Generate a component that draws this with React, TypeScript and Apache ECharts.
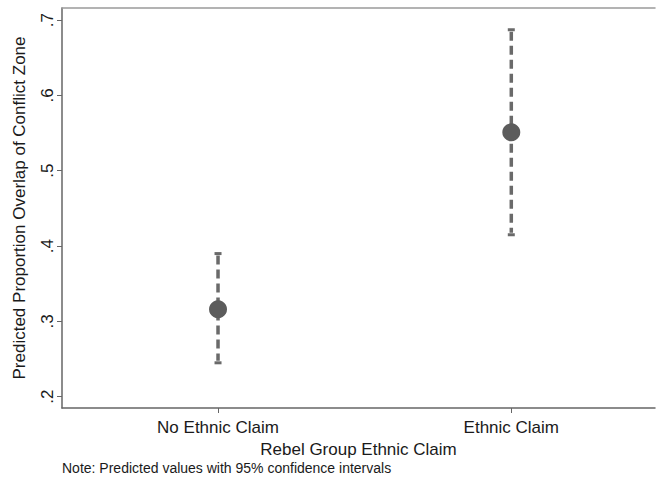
import React, { useEffect, useRef } from "react";
import * as echarts from "echarts";

const categories = ["No Ethnic Claim", "Ethnic Claim"];
const categoryPositions = [1, 2];
const predicted = [0.316, 0.551];
const ciLower = [0.245, 0.415];
const ciUpper = [0.39, 0.687];
const yTicks = [0.2, 0.3, 0.4, 0.5, 0.6, 0.7];

const FONT = "'Liberation Sans', Arial, Helvetica, sans-serif";

export default function App() {
  const ref = useRef<HTMLDivElement>(null);
  useEffect(() => {
    if (!ref.current) return;
    const chart = echarts.init(ref.current, undefined, { renderer: "svg" });
    const errorData = categoryPositions.map((x, i) => [x, ciLower[i], ciUpper[i]]);
    const pointData = categoryPositions.map((x, i) => [x, predicted[i]]);
    chart.setOption({
      animation: false,
      backgroundColor: "#ffffff",
      textStyle: { fontFamily: FONT },
      grid: { left: 62, right: 3, top: 8, bottom: 69, containLabel: false },
      xAxis: [
        {
          type: "value",
          min: 0.468,
          max: 2.49,
          position: "bottom",
          name: "Rebel Group Ethnic Claim",
          nameLocation: "middle",
          nameGap: 33,
          nameMoveOverlap: false,
          nameTextStyle: { fontFamily: FONT, fontSize: 17, color: "#1a1a1a" },
          axisLine: { show: true, lineStyle: { color: "#666", width: 1.5 } },
          axisTick: { show: true, customValues: categoryPositions, length: 5, lineStyle: { color: "#666" } },
          axisLabel: {
            customValues: categoryPositions,
            formatter: (v: number) => categories[Math.round(v) - 1] ?? "",
            fontFamily: FONT,
            fontSize: 17,
            color: "#1a1a1a",
            margin: 11,
          },
          splitLine: { show: false },
        },
        {
          type: "value",
          min: 0.468,
          max: 2.49,
          position: "top",
          axisLine: { show: true, lineStyle: { color: "#9a9a9a", width: 1.5 } },
          axisTick: { show: false },
          axisLabel: { show: false },
          splitLine: { show: false },
        },
      ],
      yAxis: {
        type: "value",
        min: 0.185,
        max: 0.716,
        name: "Predicted Proportion Overlap of Conflict Zone",
        nameLocation: "middle",
        nameRotate: 90,
        nameGap: 34,
        nameTextStyle: { fontFamily: FONT, fontSize: 17, color: "#1a1a1a" },
        axisLine: { show: true, lineStyle: { color: "#666", width: 1.5 } },
        axisTick: { show: true, customValues: yTicks, length: 5, lineStyle: { color: "#666" } },
        axisLabel: {
          customValues: yTicks,
          rotate: 90,
          formatter: (v: number) => "." + Math.round(v * 10),
          fontFamily: FONT,
          fontSize: 17,
          color: "#1a1a1a",
          margin: 6,
        },
        splitLine: { show: false },
      },
      series: [
        {
          type: "custom",
          xAxisIndex: 0,
          data: errorData,
          renderItem: (params: any, api: any) => {
            const x = api.value(0);
            const lo = api.coord([x, api.value(1)]);
            const hi = api.coord([x, api.value(2)]);
            const color = "#6a6a6a";
            return {
              type: "group",
              children: [
                {
                  type: "line",
                  shape: { x1: hi[0], y1: hi[1] + 2, x2: lo[0], y2: lo[1] - 2 },
                  style: { stroke: color, lineWidth: 3.5, lineDash: [9, 5] },
                },
                {
                  type: "rect",
                  shape: { x: hi[0] - 3.5, y: hi[1] - 1.5, width: 7, height: 3 },
                  style: { fill: color },
                },
                {
                  type: "rect",
                  shape: { x: lo[0] - 3.5, y: lo[1] - 1.5, width: 7, height: 3 },
                  style: { fill: color },
                },
              ],
            };
          },
        },
        {
          type: "scatter",
          xAxisIndex: 0,
          data: pointData,
          symbol: "circle",
          symbolSize: 18,
          itemStyle: { color: "#5c5c5c", opacity: 1 },
          z: 5,
        },
      ],
      graphic: [
        {
          type: "text",
          left: 62,
          top: 461,
          style: {
            text: "Note: Predicted values with 95% confidence intervals",
            fontFamily: FONT,
            fontSize: 14,
            fill: "#1a1a1a",
          },
        },
      ],
    });
    return () => chart.dispose();
  }, []);
  return (
    <div
      ref={ref}
      style={{ position: "fixed", left: 0, top: 0, width: 658, height: 477, background: "#fff" }}
    />
  );
}
